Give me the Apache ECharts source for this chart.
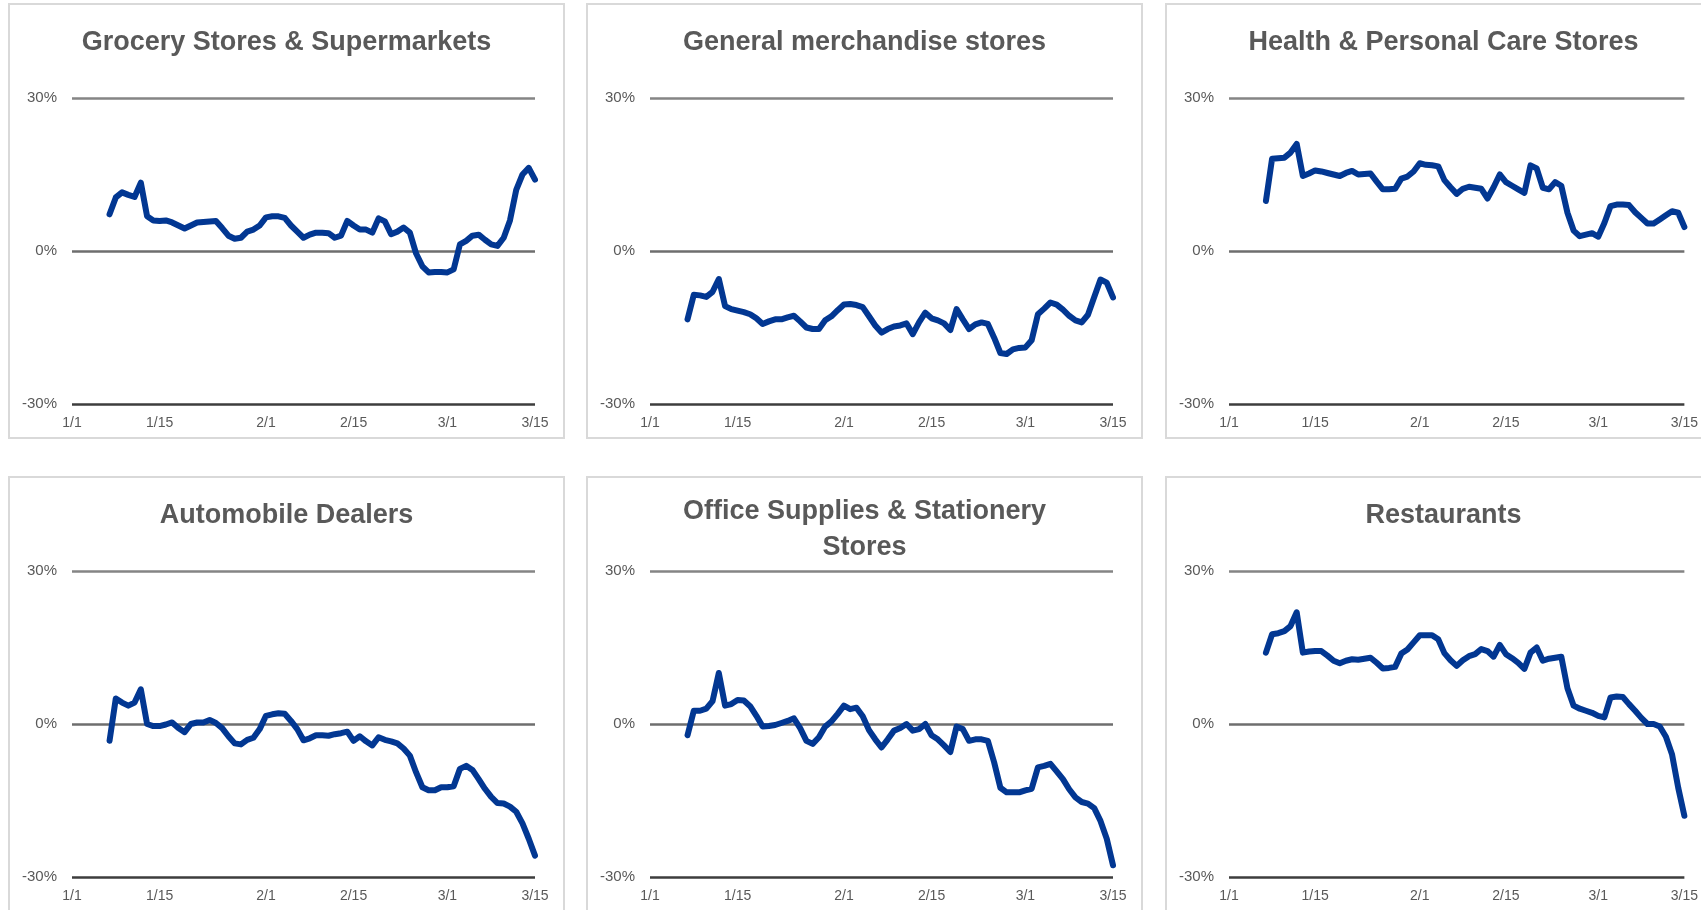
<!DOCTYPE html>
<html>
<head>
<meta charset="utf-8">
<title>Card spending by category</title>
<script src="https://cdn.jsdelivr.net/npm/echarts@6/dist/echarts.min.js"></script>
<style>
    html, body { margin: 0; padding: 0; background: #fff; }
    #chart { width: 1701px; height: 910px; }
</style>
</head>
<body>
<div id="chart"></div>
<script>
'use strict';

// Date axis: 1/1 .. 3/15 (2020, leap year)
const monthLengths = [31, 29, 15];
const tickLabels = ['1/1', '1/15', '2/1', '2/15', '3/1', '3/15'];
const firstDay = 6; // every series starts on 1/7

const titles = [
    'Grocery Stores & Supermarkets',
    'General merchandise stores',
    'Health & Personal Care Stores',
    'Automobile Dealers',
    'Office Supplies & Stationery\nStores',
    'Restaurants'
];

// YoY change in %, daily from 1/7 to 3/15
const grocery = [
    7.2, 10.5, 11.5, 11.0, 10.6, 13.4, 6.8, 6.0, 5.9, 6.0,
    5.6, 5.0, 4.4, 5.0, 5.6, 5.7, 5.8, 5.9, 4.5, 3.0,
    2.4, 2.6, 3.8, 4.2, 5.0, 6.6, 6.8, 6.8, 6.5, 5.0,
    3.8, 2.6, 3.2, 3.6, 3.6, 3.5, 2.6, 3.0, 5.9, 5.0,
    4.2, 4.2, 3.6, 6.4, 5.8, 3.3, 3.8, 4.6, 3.6, -0.5,
    -3.0, -4.2, -4.1, -4.1, -4.2, -3.6, 1.3, 2.0, 3.0, 3.2,
    2.2, 1.3, 1.0, 2.6, 6.0, 12.0, 15.0, 16.3, 14.0
];
const generalMerch = [
    -13.4, -8.6, -8.7, -9.0, -8.0, -5.5, -10.8, -11.4, -11.7, -12.0,
    -12.4, -13.2, -14.3, -13.8, -13.4, -13.4, -13.0, -12.7, -13.8, -15.0,
    -15.3, -15.3, -13.6, -12.8, -11.6, -10.5, -10.4, -10.6, -11.0, -12.8,
    -14.6, -16.0, -15.3, -14.8, -14.6, -14.2, -16.3, -14.0, -12.1, -13.2,
    -13.6, -14.2, -15.5, -11.4, -13.4, -15.3, -14.4, -14.0, -14.3, -17.0,
    -20.0, -20.2, -19.3, -19.0, -18.9, -17.5, -12.4, -11.3, -10.1, -10.5,
    -11.5, -12.7, -13.6, -14.0, -12.5, -9.0, -5.6, -6.2, -9.1
];
const healthCare = [
    9.8, 18.1, 18.2, 18.3, 19.3, 21.0, 14.7, 15.2, 15.8, 15.6,
    15.3, 15.0, 14.7, 15.3, 15.7, 15.0, 15.1, 15.2, 13.6, 12.1,
    12.1, 12.2, 14.2, 14.6, 15.6, 17.2, 16.9, 16.8, 16.6, 13.9,
    12.5, 11.2, 12.2, 12.6, 12.4, 12.2, 10.3, 12.5, 15.0, 13.5,
    12.8, 12.1, 11.4, 16.8, 16.2, 12.4, 12.1, 13.5, 12.8, 7.5,
    4.0, 2.9, 3.2, 3.5, 2.8, 5.5, 8.8, 9.1, 9.1, 9.0,
    7.6, 6.5, 5.4, 5.4, 6.2, 7.0, 7.8, 7.5, 4.7
];
const autoDealers = [
    -3.3, 5.0, 4.2, 3.6, 4.2, 6.8, 0.0, -0.4, -0.4, -0.1,
    0.3, -0.8, -1.6, 0.0, 0.3, 0.3, 0.8, 0.2, -0.8, -2.4,
    -3.8, -4.0, -3.1, -2.7, -1.0, 1.6, 1.9, 2.1, 2.0, 0.6,
    -1.0, -3.2, -2.8, -2.2, -2.2, -2.3, -2.0, -1.8, -1.5, -3.3,
    -2.4, -3.4, -4.2, -2.6, -3.1, -3.4, -3.8, -4.8, -6.2, -9.5,
    -12.4, -13.0, -13.0, -12.4, -12.4, -12.2, -8.8, -8.2, -9.0, -10.8,
    -12.7, -14.3, -15.5, -15.6, -16.2, -17.2, -19.5, -22.5, -25.8
];
const officeSupplies = [
    -2.2, 2.6, 2.6, 3.0, 4.5, 10.0, 3.6, 3.9, 4.7, 4.6,
    3.5, 1.6, -0.5, -0.4, -0.2, 0.2, 0.6, 1.1, -0.8, -3.3,
    -3.9, -2.6, -0.5, 0.5, 2.0, 3.6, 2.9, 3.2, 1.5, -1.2,
    -3.0, -4.6, -3.0, -1.3, -0.8, 0.0, -1.3, -1.0, 0.0, -2.2,
    -3.0, -4.2, -5.5, -0.5, -1.0, -3.3, -3.0, -3.0, -3.3, -7.5,
    -12.5, -13.4, -13.4, -13.4, -13.0, -12.7, -8.5, -8.2, -7.8, -9.3,
    -10.8, -12.8, -14.4, -15.3, -15.6, -16.5, -19.0, -22.5, -27.7
];
const restaurants = [
    14.0, 17.6, 17.8, 18.2, 19.2, 21.9, 14.0, 14.2, 14.3, 14.3,
    13.4, 12.4, 11.9, 12.4, 12.7, 12.6, 12.8, 13.0, 12.0, 10.9,
    11.0, 11.2, 13.8, 14.6, 16.0, 17.4, 17.4, 17.4, 16.6, 13.9,
    12.5, 11.4, 12.5, 13.3, 13.7, 14.7, 14.3, 13.2, 15.5, 13.7,
    12.9, 12.0, 10.8, 14.0, 15.0, 12.4, 12.8, 13.0, 13.2, 7.0,
    3.6, 3.0, 2.6, 2.2, 1.6, 1.3, 5.2, 5.4, 5.3, 3.9,
    2.6, 1.2, 0.0, 0.0, -0.5, -2.5, -6.0, -12.5, -18.0
];

const seriesValues = [grocery, generalMerch, healthCare, autoDealers, officeSupplies, restaurants];

// Panel layout
const colLefts = [9, 587, 1166];
const rowTops = [4, 477];
const panelW = 555;
const panelH = 434;
const textColor = '#595959';
const fontFamily = '"Liberation Sans", Arial, sans-serif';

const days = [];
monthLengths.forEach((len, m) => {
    for (let d = 1; d <= len; d++) days.push((m + 1) + '/' + d);
});

const panels = titles.map((title, i) => ({
    title: title,
    values: seriesValues[i],
    left: colLefts[i % 3],
    top: rowTops[Math.floor(i / 3)]
}));

const chart = echarts.init(document.getElementById('chart'), null, { renderer: 'canvas' });

chart.setOption({
    backgroundColor: '#fff',
    animation: false,
    textStyle: { fontFamily: fontFamily },
    title: panels.map(p => ({
        text: p.title,
        left: p.left + panelW / 2,
        top: p.top + (p.title.indexOf('\n') >= 0 ? 17 : 21),
        textAlign: 'center',
        padding: 0,
        textStyle: {
            fontFamily: fontFamily,
            fontSize: 27,
            fontWeight: 'bold',
            color: textColor,
            lineHeight: 36
        }
    })),
    graphic: panels.map(p => ({
        type: 'rect',
        silent: true,
        shape: { x: p.left, y: p.top, width: panelW, height: panelH },
        style: { fill: null, stroke: '#d9d9d9', lineWidth: 2 }
    })),
    grid: panels.map(p => ({
        left: p.left + 63,
        top: p.top + 94,
        width: 463,
        height: 306
    })),
    xAxis: panels.map((p, i) => ({
        type: 'category',
        gridIndex: i,
        data: days,
        boundaryGap: false,
        axisLine: { show: false },
        axisTick: { show: false },
        axisLabel: {
            interval: (idx, val) => tickLabels.indexOf(val) >= 0,
            color: textColor,
            fontSize: 14,
            margin: 12
        },
        splitLine: { show: false }
    })),
    yAxis: panels.map((p, i) => ({
        type: 'value',
        gridIndex: i,
        min: -30,
        max: 30,
        interval: 30,
        axisLine: { show: false },
        axisTick: { show: false },
        axisLabel: {
            formatter: '{value}%',
            color: textColor,
            fontSize: 15,
            margin: 15
        },
        splitLine: {
            lineStyle: { color: ['#3d3d3d', '#6e6e6e', '#858585'], width: 2.5 }
        }
    })),
    series: panels.map((p, i) => ({
        type: 'line',
        name: p.title,
        xAxisIndex: i,
        yAxisIndex: i,
        showSymbol: false,
        symbol: 'none',
        lineStyle: { color: '#023792', width: 6, cap: 'round', join: 'round' },
        data: new Array(firstDay).fill(null).concat(p.values)
    }))
});
</script>
</body>
</html>
